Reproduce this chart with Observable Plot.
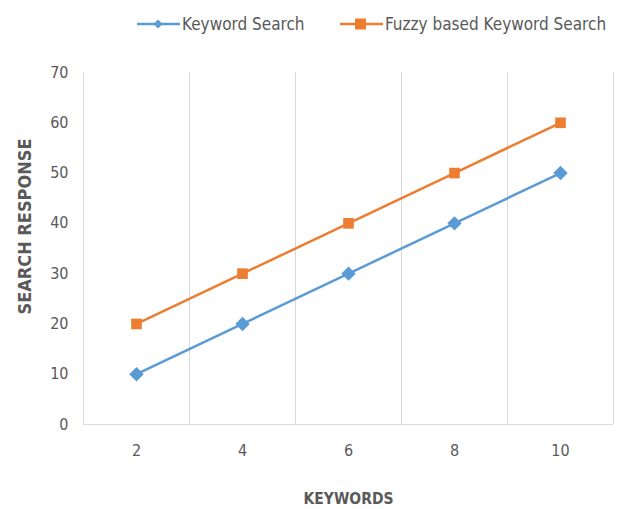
<!DOCTYPE html>
<html>
<head>
<meta charset="utf-8">
<script src="https://cdn.jsdelivr.net/npm/d3@7"></script>
<script src="https://cdn.jsdelivr.net/npm/@observablehq/plot@0.6"></script>
<style>
  html, body { margin: 0; padding: 0; background: #fff; }
  body { width: 641px; height: 509px; overflow: hidden; font-family: "Liberation Sans Narrow", "DejaVu Sans Condensed", "Open Sans", sans-serif; }
  #legend { height: 45px; position: relative; font-size: 17px; color: #595959; }
  .item { position: absolute; top: 14px; display: flex; align-items: center; }
  .item svg { margin-right: 2px; }
</style>
</head>
<body>
<div id="legend"></div>
<div id="chart"></div>
<script>
const keywords = [2, 4, 6, 8, 10];
const keywordSearch = [10, 20, 30, 40, 50];
const fuzzySearch = [20, 30, 40, 50, 60];
const seriesNames = ["Keyword Search", "Fuzzy based Keyword Search"];
const seriesColors = ["#5B9BD5", "#ED7D31"];
const yTicks = [0, 10, 20, 30, 40, 50, 60, 70];
const gridX = [1, 3, 5, 7, 9, 11];

const rows = [];
keywords.forEach((k, i) => {
  rows.push({k, v: keywordSearch[i], s: seriesNames[0]});
  rows.push({k, v: fuzzySearch[i], s: seriesNames[1]});
});

const gray = "#595959";
const chart = Plot.plot({
  width: 641,
  height: 464,
  marginLeft: 83,
  marginRight: 28,
  marginTop: 27,
  marginBottom: 85,
  style: {fontFamily: "'Liberation Sans Narrow', 'DejaVu Sans Condensed', 'Open Sans', sans-serif", fontSize: "16px", color: gray},
  x: {domain: [1, 11], label: null},
  y: {domain: [0, 70], label: null},
  color: {domain: seriesNames, range: seriesColors},
  marks: [
    Plot.ruleX(gridX, {stroke: "#d9d9d9", strokeWidth: 1}),
    Plot.ruleY([0], {stroke: "#d9d9d9", strokeWidth: 1}),
    Plot.axisX({ticks: keywords, tickSize: 0, tickPadding: 20, fontSize: 16, fill: gray, label: null}),
    Plot.axisY({ticks: yTicks, tickSize: 0, tickPadding: 15, fontSize: 16, fill: gray, label: null}),
    Plot.line(rows, {x: "k", y: "v", z: "s", stroke: "s", strokeWidth: 2.5}),
    Plot.dot(rows.filter(d => d.s === seriesNames[0]), {x: "k", y: "v", symbol: "diamond2", r: 6.5, fill: seriesColors[0], stroke: null}),
    Plot.dot(rows.filter(d => d.s === seriesNames[1]), {x: "k", y: "v", symbol: "square", r: 6, fill: seriesColors[1], stroke: null}),
    Plot.text(["KEYWORDS"], {frameAnchor: "bottom", dy: 79, fontWeight: "bold", fontSize: 15.5, fill: gray}),
    Plot.text(["SEARCH RESPONSE"], {frameAnchor: "left", textAnchor: "middle", dx: -58, dy: -22, rotate: -90, fontWeight: "bold", fontSize: 18, fill: gray})
  ]
});
document.getElementById("chart").appendChild(chart);

// legend
const legend = document.getElementById("legend");
const lefts = [137, 340];
seriesNames.forEach((name, i) => {
  const item = document.createElement("div");
  item.className = "item";
  item.style.left = lefts[i] + "px";
  const sym = i === 0
    ? `<polygon points="21,5.5 25.5,10 21,14.5 16.5,10" fill="${seriesColors[i]}"/>`
    : `<rect x="15" y="4.5" width="11" height="11" fill="${seriesColors[i]}"/>`;
  item.innerHTML = `<svg width="43" height="20"><line x1="0" x2="43" y1="10" y2="10" stroke="${seriesColors[i]}" stroke-width="2.5"/>${sym}</svg><span>${name}</span>`;
  legend.appendChild(item);
});
</script>
</body>
</html>
